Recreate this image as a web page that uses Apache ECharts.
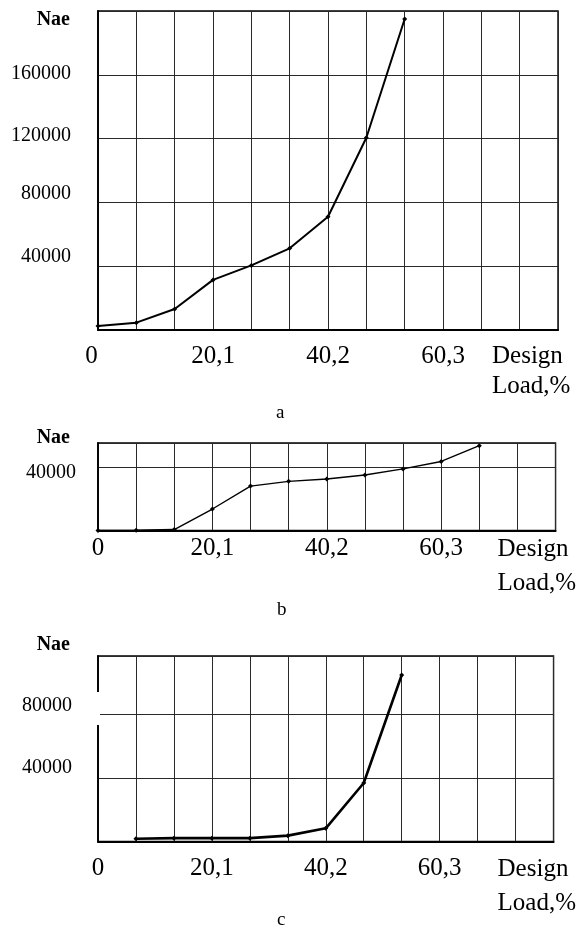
<!DOCTYPE html>
<html>
<head>
<meta charset="utf-8">
<script src="https://cdn.jsdelivr.net/npm/echarts@6/dist/echarts.min.js"></script>
<style>
html,body{margin:0;padding:0;background:#fff;}
#chart{width:577px;height:930px;}
</style>
</head>
<body>
<div id="chart"></div>
<script>
// ---- data ----
const loadsA = [0, 6.7, 13.4, 20.1, 26.8, 33.5, 40.2, 46.9, 53.6];
const naeA   = [2500, 4600, 13200, 31400, 40500, 51200, 71000, 120500, 195000];

const loadsB = [0, 6.7, 13.4, 20.1, 26.8, 33.5, 40.2, 46.9, 53.6, 60.3, 67.0];
const naeB   = [0, 200, 600, 13500, 27900, 30900, 32400, 34900, 38700, 43400, 53300];

const loadsC = [6.7, 13.4, 20.1, 26.8, 33.5, 40.2, 46.9, 53.6];
const naeC   = [1700, 2100, 2100, 2100, 3700, 8300, 36900, 105000];

const xTickValues = [0, 20.1, 40.2, 60.3];
const xTickLabels = ['0', '20,1', '40,2', '60,3'];
const xStep = 6.7;
const xMax = 80.4;

const yTicksA = [40000, 80000, 120000, 160000];
const yTicksB = [40000];
const yTicksC = [40000, 80000];
const yMaxA = 200000, yMaxB = 55000, yMaxC = 117000;

const xName = 'Design\nLoad,%';
const yName = 'Nae';
const panelNames = ['a', 'b', 'c'];

// ---- styling ----
const FONT = '"Liberation Serif", "Times New Roman", serif';

// vertical label offsets (px, positive = up) to mimic the reference placement
const shiftA = {40000: 9, 80000: 9, 120000: 3, 160000: 1};
const shiftB = {40000: -6};
const shiftC = {40000: 10, 80000: 9};

function richFor(shifts) {
  const r = {};
  Object.values(shifts).forEach(s => {
    const key = s >= 0 ? 'u' + s : 'd' + (-s);
    r[key] = {
      fontSize: 20, fontFamily: FONT, color: '#000',
      padding: s >= 0 ? [0, 0, 2 * s, 0] : [-2 * s, 0, 0, 0]
    };
  });
  return r;
}

function yLabelFormatter(ticks, shifts) {
  return function (v) {
    if (ticks.indexOf(v) < 0) return '';
    const s = shifts[v] || 0;
    const key = s >= 0 ? 'u' + s : 'd' + (-s);
    return '{' + key + '|' + v + '}';
  };
}

function xLabelFormatter(shiftZero) {
  return function (v) {
    const i = xTickValues.findIndex(t => Math.abs(t - v) < 0.01);
    if (i < 0) return '';
    if (i === 0 && shiftZero) return '{z|' + xTickLabels[0] + '}';
    return xTickLabels[i];
  };
}

const grids = [
  {left: 98, right: 19, top: 11, height: 319},
  {left: 98, right: 19, top: 443, height: 87.5},
  {left: 98, right: 19, top: 656, height: 185.5}
];

const xMargins = [14, 5, 14];
const xNamePad = [11, 2, 11];
const xNameLH = [30, 34, 34];
const xNameGap = [-66, -58, -56];
const yMargins = [27, 22, 26];
const yNameGap = [-9, 5, 11];
const yMaxes = [yMaxA, yMaxB, yMaxC];
const yTicks = [yTicksA, yTicksB, yTicksC];
const yShifts = [shiftA, shiftB, shiftC];
const lineWidths = [2, 1.4, 2.6];

const xAxes = grids.map((g, i) => ({
  type: 'value', gridIndex: i, min: 0, max: xMax, interval: xStep,
  axisLine: {show: true, onZero: false, lineStyle: {color: '#000', width: 2}},
  axisTick: {show: false},
  splitLine: {show: true, lineStyle: {color: '#2a2a2a', width: 1}},
  axisLabel: {
    show: true, margin: xMargins[i], fontSize: 25, lineHeight: 25,
    fontFamily: FONT, color: '#000', showMinLabel: true, showMaxLabel: true,
    formatter: xLabelFormatter(i === 0),
    rich: {z: {fontSize: 25, fontFamily: FONT, color: '#000', padding: [0, 13, 0, 0]}}
  },
  name: xName, nameLocation: 'end', nameGap: xNameGap[i],
  nameTextStyle: {
    fontSize: 25, fontFamily: FONT, color: '#000', align: 'left',
    verticalAlign: 'top', lineHeight: xNameLH[i], padding: [xNamePad[i], 0, 0, 0]
  }
}));

const yAxes = grids.map((g, i) => ({
  type: 'value', gridIndex: i, min: 0, max: yMaxes[i], interval: 40000,
  axisLine: {show: true, lineStyle: {color: '#000', width: 1.8}},
  axisTick: {show: false},
  splitLine: {show: true, lineStyle: {color: '#2a2a2a', width: 1}},
  axisLabel: {
    show: true, margin: yMargins[i], fontSize: 20, fontFamily: FONT, color: '#000',
    formatter: yLabelFormatter(yTicks[i], yShifts[i]), rich: richFor(yShifts[i])
  },
  name: yName, nameLocation: 'end', nameGap: yNameGap[i],
  nameTextStyle: {
    fontSize: 20, fontWeight: 'bold', fontFamily: FONT, color: '#000',
    align: 'right', verticalAlign: 'middle', padding: [0, 28, 0, 0]
  }
}));

function pairs(xs, ys) { return xs.map((x, k) => [x, ys[k]]); }

const seriesData = [pairs(loadsA, naeA), pairs(loadsB, naeB), pairs(loadsC, naeC)];

const series = seriesData.map((d, i) => ({
  type: 'line', xAxisIndex: i, yAxisIndex: i, data: d,
  symbol: 'diamond', symbolSize: 5, showSymbol: true,
  lineStyle: {color: '#000', width: lineWidths[i]},
  itemStyle: {color: '#000'},
  animation: false, z: 5
}));

const titles = [
  {text: panelNames[0], left: 276, top: 404},
  {text: panelNames[1], left: 277, top: 601},
  {text: panelNames[2], left: 277, top: 911}
].map(t => Object.assign(t, {
  padding: 0,
  textStyle: {fontSize: 19, fontWeight: 'normal', fontFamily: FONT, color: '#000'}
}));

const chart = echarts.init(document.getElementById('chart'), null, {renderer: 'canvas'});
chart.setOption({
  backgroundColor: '#fff',
  animation: false,
  title: titles,
  grid: grids.map(g => Object.assign({show: true, borderColor: '#000', borderWidth: 1.4}, g)),
  xAxis: xAxes,
  yAxis: yAxes,
  series: series,
  graphic: [
    // small break in the left frame of panel c, as in the reference scan
    {type: 'rect', shape: {x: 95, y: 692, width: 5, height: 33}, style: {fill: '#fff'}, z: 100}
  ]
});
</script>
</body>
</html>
